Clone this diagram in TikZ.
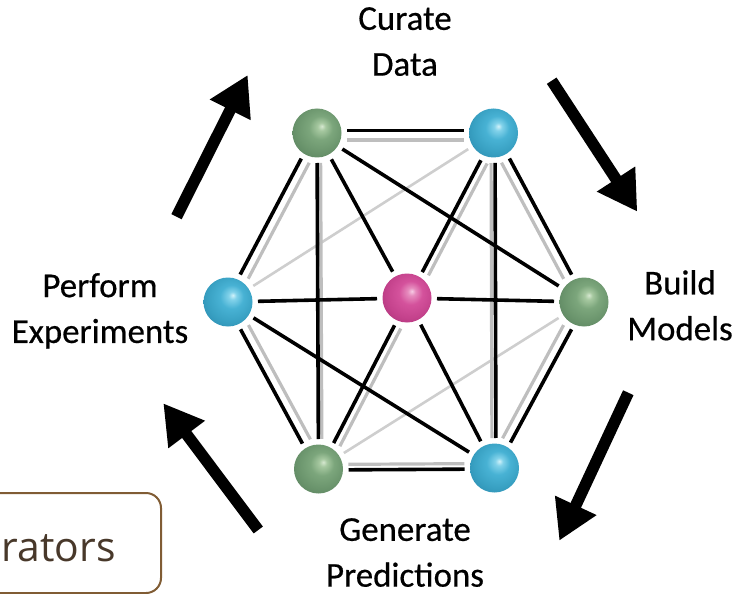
\documentclass[tikz,border=0pt]{standalone}
\usepackage{fontspec}
\setmainfont{Carlito}[FakeBold=0.5]
\newfontfamily\boxfont{Open Sans}
\usetikzlibrary{arrows.meta,calc}

\definecolor{grnHL}{RGB}{214,232,208}
\definecolor{grnLt}{RGB}{166,200,160}
\definecolor{grnMid}{RGB}{124,166,124}
\definecolor{grnDk}{RGB}{106,148,108}
\definecolor{grnEdge}{RGB}{92,132,96}
\definecolor{bluHL}{RGB}{210,242,250}
\definecolor{bluLt}{RGB}{130,210,234}
\definecolor{bluMid}{RGB}{72,178,212}
\definecolor{bluDk}{RGB}{56,160,194}
\definecolor{bluEdge}{RGB}{46,142,178}
\definecolor{pnkHL}{RGB}{246,204,228}
\definecolor{pnkLt}{RGB}{230,140,190}
\definecolor{pnkMid}{RGB}{212,82,156}
\definecolor{pnkDk}{RGB}{196,66,140}
\definecolor{pnkEdge}{RGB}{176,54,124}
\definecolor{shadowgray}{RGB}{190,190,190}
\definecolor{lightgray2}{RGB}{206,206,206}
\definecolor{boxbrown}{RGB}{128,92,52}
\definecolor{boxtext}{RGB}{72,56,42}

\pgfdeclareradialshading{greenball}{\pgfpoint{5bp}{7bp}}{%
  color(0bp)=(grnHL); color(4bp)=(grnLt); color(12bp)=(grnMid);
  color(24bp)=(grnDk); color(33bp)=(grnEdge); color(50bp)=(grnEdge)}
\pgfdeclareradialshading{blueball}{\pgfpoint{5bp}{7bp}}{%
  color(0bp)=(bluHL); color(4bp)=(bluLt); color(12bp)=(bluMid);
  color(24bp)=(bluDk); color(33bp)=(bluEdge); color(50bp)=(bluEdge)}
\pgfdeclareradialshading{pinkball}{\pgfpoint{5bp}{7bp}}{%
  color(0bp)=(pnkHL); color(4bp)=(pnkLt); color(12bp)=(pnkMid);
  color(24bp)=(pnkDk); color(33bp)=(pnkEdge); color(50bp)=(pnkEdge)}

\newcommand\offline[4]{\draw[#1] ($(#2)!#4!-90:(#3)$) -- ($(#3)!#4!90:(#2)$);}

\tikzset{
  sphere/.style={circle, minimum size=49bp, inner sep=0pt},
  gsph/.style={sphere, shading=greenball},
  bsph/.style={sphere, shading=blueball},
  psph/.style={sphere, shading=pinkball},
  blackline/.style={line width=3.6bp, black, shorten >=30bp, shorten <=30bp},
  shadowline/.style={line width=3.2bp, shadowgray, shorten >=30bp, shorten <=30bp},
  thingray/.style={line width=2.6bp, lightgray2, shorten >=30bp, shorten <=30bp},
  bigarrow/.style={line width=11.5bp, black, -{Triangle[length=39bp,width=43bp]}},
  lbl/.style={font=\fontsize{35}{46}\selectfont, align=center, inner sep=0pt, anchor=north},
}

\begin{document}
\begin{tikzpicture}[x=1bp,y=-1bp]
\useasboundingbox (0,0) rectangle (734,594);

% node positions
\coordinate (A) at (317,133);
\coordinate (B) at (493.5,133);
\coordinate (C) at (228,302);
\coordinate (P) at (407,298);
\coordinate (D) at (584,302);
\coordinate (E) at (318.5,469);
\coordinate (F) at (494.5,468);

% thin gray edges
\offline{thingray}{B}{C}{0bp}
\offline{thingray}{D}{E}{0bp}

% gray companion lines
\offline{shadowline}{A}{B}{7bp}
\offline{shadowline}{B}{D}{7bp}
\offline{shadowline}{D}{F}{7bp}
\offline{shadowline}{F}{E}{4.5bp}
\offline{shadowline}{E}{C}{7bp}
\offline{shadowline}{C}{A}{7bp}
\offline{shadowline}{A}{E}{-3.5bp}
\offline{shadowline}{B}{F}{2.5bp}
\offline{shadowline}{B}{P}{-8.5bp}
\offline{shadowline}{P}{E}{-8.5bp}

% black lines
\offline{blackline}{A}{B}{-2.5bp}
\offline{blackline}{B}{D}{-2bp}
\offline{blackline}{D}{F}{-2bp}
\offline{blackline}{F}{E}{-1bp}
\offline{blackline}{E}{C}{-2bp}
\offline{blackline}{C}{A}{-2bp}
\offline{blackline}{A}{E}{0bp}
\offline{blackline}{B}{F}{-1.5bp}
\offline{blackline}{B}{P}{-1.5bp}
\offline{blackline}{P}{E}{-1.5bp}
\offline{blackline}{A}{P}{0bp}
\offline{blackline}{A}{D}{0bp}
\offline{blackline}{C}{P}{0bp}
\offline{blackline}{C}{F}{0bp}
\offline{blackline}{P}{D}{0bp}
\offline{blackline}{P}{F}{0bp}

% spheres
\node[gsph] (nA) at (A) {};
\node[bsph] (nB) at (B) {};
\node[bsph] (nC) at (C) {};
\node[psph] (nP) at (P) {};
\node[gsph] (nD) at (D) {};
\node[gsph] (nE) at (E) {};
\node[bsph] (nF) at (F) {};

% cycle arrows
\coordinate (a1s) at (176.5,216.7); \coordinate (a1e) at (247.7,75);
\coordinate (a2s) at (551.7,80.7);  \coordinate (a2e) at (637.3,211.7);
\coordinate (a3s) at (628.3,392.7); \coordinate (a3e) at (559.3,540.7);
\coordinate (a4s) at (258.3,530);   \coordinate (a4e) at (163.3,403.3);
\draw[bigarrow] (a1s) -- (a1e);
\draw[bigarrow] (a2s) -- (a2e);
\draw[bigarrow] (a3s) -- (a3e);
\draw[bigarrow] (a4s) -- (a4e);

% labels
\node[lbl] (curate) at (405,7) {Curate\\Data};
\node[lbl] (build) at (680,270) {Build\\Models};
\node[lbl] (perform) at (100,273) {Perform\\Experiments};
\node[lbl] (generate) at (405,518) {Generate\\Predictions};

% partial box
\node[draw=boxbrown, line width=2bp, rounded corners=15bp, minimum width=240bp,
      minimum height=100bp, anchor=north east, inner sep=0pt] (box) at (162,492) {};
\node[anchor=base east, inner sep=0pt, text=boxtext,
      font=\boxfont\fontsize{41}{44}\selectfont] (boxlabel) at (116,561) {rators};
\end{tikzpicture}
\end{document}
